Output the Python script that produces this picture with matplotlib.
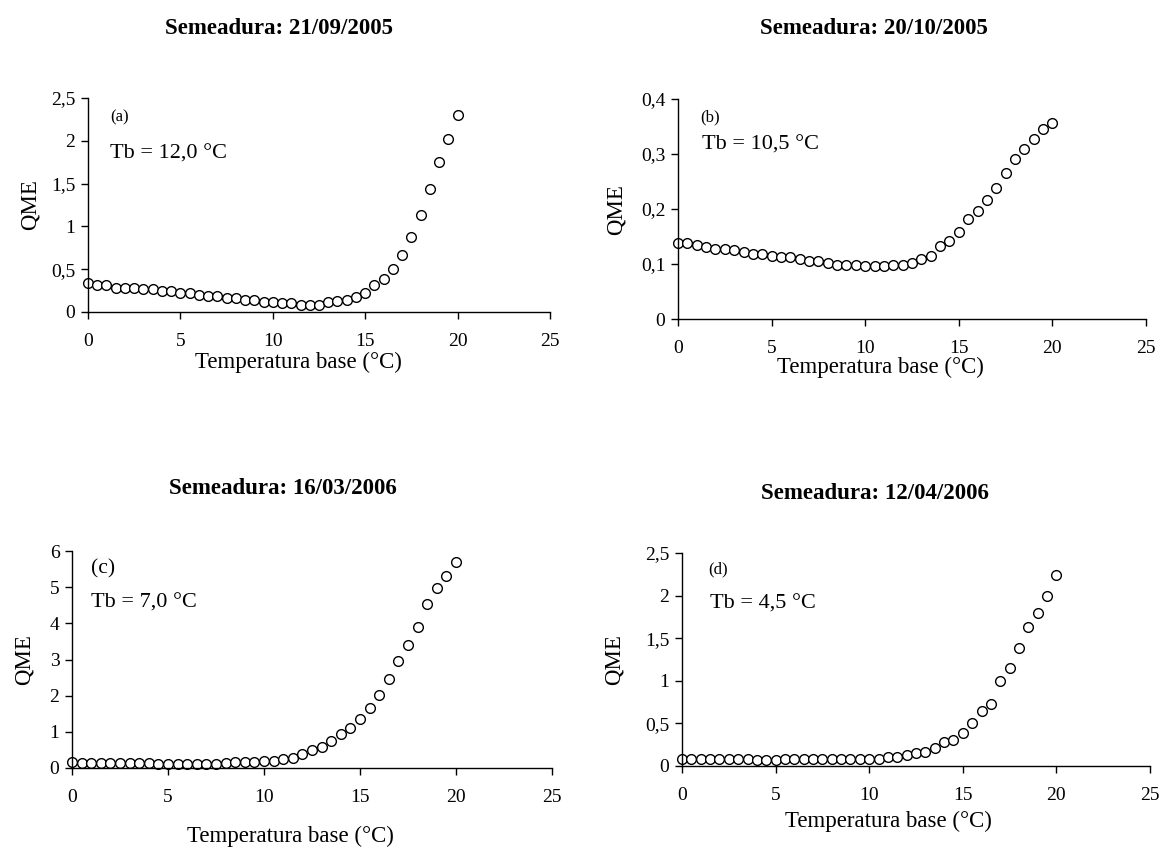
import matplotlib
matplotlib.use("Agg")
import matplotlib.pyplot as plt
from matplotlib.ticker import FuncFormatter

plt.rcParams['font.family'] = ['Liberation Serif', 'DejaVu Serif']

# temperatura base (x) for all four sowing dates
temp_base = [0, 0.5, 1, 1.5, 2, 2.5, 3, 3.5, 4, 4.5, 5, 5.5, 6, 6.5, 7, 7.5, 8, 8.5, 9, 9.5,
             10, 10.5, 11, 11.5, 12, 12.5, 13, 13.5, 14, 14.5, 15, 15.5, 16, 16.5, 17, 17.5,
             18, 18.5, 19, 19.5, 20]

# QME values
qme_a = [0.336, 0.31, 0.31, 0.285, 0.285, 0.285, 0.265, 0.265, 0.246, 0.246, 0.226, 0.226,
         0.203, 0.183, 0.183, 0.16, 0.16, 0.14, 0.14, 0.121, 0.121, 0.10, 0.10, 0.078, 0.078,
         0.078, 0.113, 0.133, 0.14, 0.18, 0.226, 0.31, 0.386, 0.5, 0.667, 0.878, 1.128, 1.44,
         1.752, 2.026, 2.299]
qme_b = [0.138, 0.138, 0.135, 0.131, 0.128, 0.128, 0.125, 0.121, 0.118, 0.118, 0.115, 0.113,
         0.113, 0.109, 0.106, 0.106, 0.102, 0.099, 0.099, 0.099, 0.097, 0.097, 0.097, 0.099,
         0.099, 0.102, 0.109, 0.115, 0.132, 0.142, 0.158, 0.181, 0.197, 0.217, 0.239, 0.266,
         0.291, 0.310, 0.327, 0.346, 0.356]
qme_c = [0.17, 0.14, 0.14, 0.14, 0.14, 0.14, 0.14, 0.14, 0.14, 0.10, 0.10, 0.10, 0.10, 0.10,
         0.10, 0.10, 0.14, 0.16, 0.16, 0.16, 0.19, 0.19, 0.25, 0.29, 0.40, 0.49, 0.59, 0.74,
         0.93, 1.11, 1.36, 1.65, 2.02, 2.45, 2.95, 3.39, 3.89, 4.53, 4.98, 5.32, 5.69]
qme_d = [0.078, 0.078, 0.078, 0.078, 0.078, 0.078, 0.078, 0.078, 0.076, 0.074, 0.076, 0.078,
         0.078, 0.078, 0.078, 0.078, 0.078, 0.078, 0.078, 0.078, 0.078, 0.078, 0.10, 0.10,
         0.125, 0.148, 0.168, 0.207, 0.285, 0.31, 0.39, 0.50, 0.65, 0.73, 1.00, 1.15, 1.38,
         1.63, 1.80, 1.99, 2.24]

titles = ['Semeadura: 21/09/2005', 'Semeadura: 20/10/2005',
          'Semeadura: 16/03/2006', 'Semeadura: 12/04/2006']
letters = ['(a)', '(b)', '(c)', '(d)']
tb_labels = ['Tb = 12,0 °C', 'Tb = 10,5 °C', 'Tb = 7,0 °C', 'Tb = 4,5 °C']
y_max = [2.5, 0.4, 6, 2.5]
y_step = [0.5, 0.1, 1, 0.5]

W, H = 1159, 848
fig = plt.figure(figsize=(W / 100, H / 100), dpi=100)


def box(left, top, right, bottom):
    # pixel box -> figure fraction
    return [left / W, 1 - bottom / H, (right - left) / W, (bottom - top) / H]


# axes boxes in pixels: left, top, right, bottom
boxes = [(88, 98, 550, 312), (678, 99, 1146, 319), (72, 551, 552, 768), (682, 553, 1150, 766)]
# where the text goes (pixels / axes fractions)
title_pos = [(279, 28), (874, 28), (283, 488), (875, 494)]
ylabel_pos = [(30, 205), (616, 210), (24, 660), (614, 660)]
xlabel_pos = [(298, 362), (880, 367), (290, 836), (888, 821)]
letter_xy = [(0.048, 0.911), (0.047, 0.918), (0.039, 0.917), (0.056, 0.925)]
tb_xy = [(0.048, 0.738), (0.051, 0.79), (0.039, 0.76), (0.06, 0.76)]
letter_size = [12, 12, 15.5, 12]
series = [qme_a, qme_b, qme_c, qme_d]


def dec_comma(v, pos):
    s = ('%.1f' % v).rstrip('0').rstrip('.')
    return s.replace('.', ',')


for i in range(4):
    ax = fig.add_axes(box(*boxes[i]))
    ax.plot(temp_base, series[i], linestyle='none', marker='o', markersize=7,
            markerfacecolor='white', markeredgecolor='black', markeredgewidth=1.0, clip_on=False)
    ax.set_xlim(0, 25)
    ax.set_ylim(0, y_max[i])
    ax.set_xticks([0, 5, 10, 15, 20, 25])
    n = int(round(y_max[i] / y_step[i]))
    ax.set_yticks([k * y_step[i] for k in range(n + 1)])
    ax.yaxis.set_major_formatter(FuncFormatter(dec_comma))
    ax.spines['top'].set_visible(False)
    ax.spines['right'].set_visible(False)
    for s in ['left', 'bottom']:
        ax.spines[s].set_linewidth(1.0)
    ax.tick_params(direction='out', length=5, width=1.0, labelsize=14, pad=4)
    ax.tick_params(axis='x', pad=10)

    ax.text(letter_xy[i][0], letter_xy[i][1], letters[i], transform=ax.transAxes,
            fontsize=letter_size[i], va='center')
    ax.text(tb_xy[i][0], tb_xy[i][1], tb_labels[i], transform=ax.transAxes, fontsize=16, va='center')

    tx, ty = title_pos[i]
    fig.text(tx / W, 1 - ty / H, titles[i], fontsize=16.5, fontweight='bold', ha='center', va='center')
    lx, ly = ylabel_pos[i]
    fig.text(lx / W, 1 - ly / H, 'QME', fontsize=16.5, rotation=90, ha='center', va='center')
    xx, xy = xlabel_pos[i]
    fig.text(xx / W, 1 - xy / H, 'Temperatura base (°C)', fontsize=16.5, ha='center', va='center')

fig.savefig('out.png', dpi=100)
